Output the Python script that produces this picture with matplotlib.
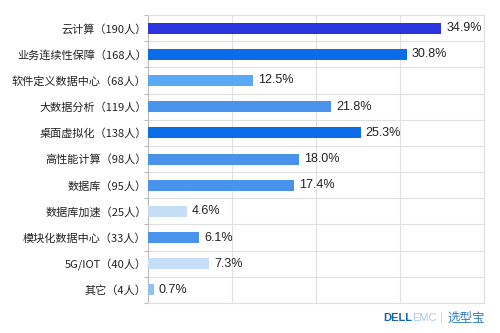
import numpy as np
import matplotlib
matplotlib.use('Agg')
import matplotlib.pyplot as plt

plt.rcParams['font.family'] = ['Noto Sans CJK SC', 'DejaVu Sans']

# Dane
kategorie = ['云计算', '业务连续性保障', '软件定义数据中心', '大数据分析', '桌面虚拟化',
             '高性能计算', '数据库', '数据库加速', '模块化数据中心', '5G/IOT', '其它']
pocty = [190, 168, 68, 119, 138, 98, 95, 25, 33, 40, 4]
podiely = [34.9, 30.8, 12.5, 21.8, 25.3, 18.0, 17.4, 4.6, 6.1, 7.3, 0.7]
farby = ['#2a35e0', '#0b6ce8', '#5aa9f5', '#4a93ec', '#0b6ce8', '#4a93ec',
         '#4a93ec', '#c6ddf8', '#4a93ec', '#c6ddf8', '#93c0f2']

popisky = [f'{k}（{n}人）' for k, n in zip(kategorie, pocty)]
y = np.arange(len(kategorie))

fig = plt.figure(figsize=(5, 3.33), dpi=100)
ax = fig.add_axes([0.296, 0.09, 0.672, 0.865])

ax.barh(y, podiely, height=0.42, color=farby, zorder=3)
for yi, v in zip(y, podiely):
    ax.text(v + 0.6, yi, f'{v:.1f}%', va='center', ha='left', fontsize=9,
            family=['Liberation Sans', 'DejaVu Sans'], color='#222222')

ax.set_xlim(0, 40)
ax.set_ylim(len(kategorie) - 0.5, -0.5)
ax.set_xticks([0, 10, 20, 30, 40])
ax.tick_params(axis='x', length=0, labelbottom=False)
ax.set_yticks(y)
ax.set_yticklabels(popisky, fontsize=8, color='#222222')
ax.tick_params(axis='y', which='major', length=0, pad=1)
ax.set_yticks(np.arange(-0.5, len(kategorie)), minor=True)
ax.tick_params(axis='y', which='minor', length=3, color='#bbbbbb', width=0.8)

ax.grid(axis='x', color='#e0e0e0', linewidth=0.8, zorder=0)
ax.grid(axis='y', which='minor', color='#e0e0e0', linewidth=0.8, zorder=0)
for s in ['top', 'right', 'bottom']:
    ax.spines[s].set_color('#e0e0e0')
    ax.spines[s].set_linewidth(0.8)
ax.spines['left'].set_color('#bbbbbb')
ax.spines['left'].set_linewidth(0.8)

# Vodoznak
fig.text(0.766, 0.045, 'DELL', fontsize=8, fontweight='bold', color='#1565a8',
         family=['Liberation Sans'], va='center', ha='left')
fig.text(0.825, 0.045, 'EMC', fontsize=8, color='#a9c9e4',
         family=['Liberation Sans'], va='center', ha='left')
fig.text(0.880, 0.045, '|', fontsize=8, color='#cccccc', va='center', ha='left')
fig.text(0.894, 0.045, '选型宝', fontsize=9, color='#2b7cc4', va='center', ha='left')

plt.savefig('out.png', dpi=100)
